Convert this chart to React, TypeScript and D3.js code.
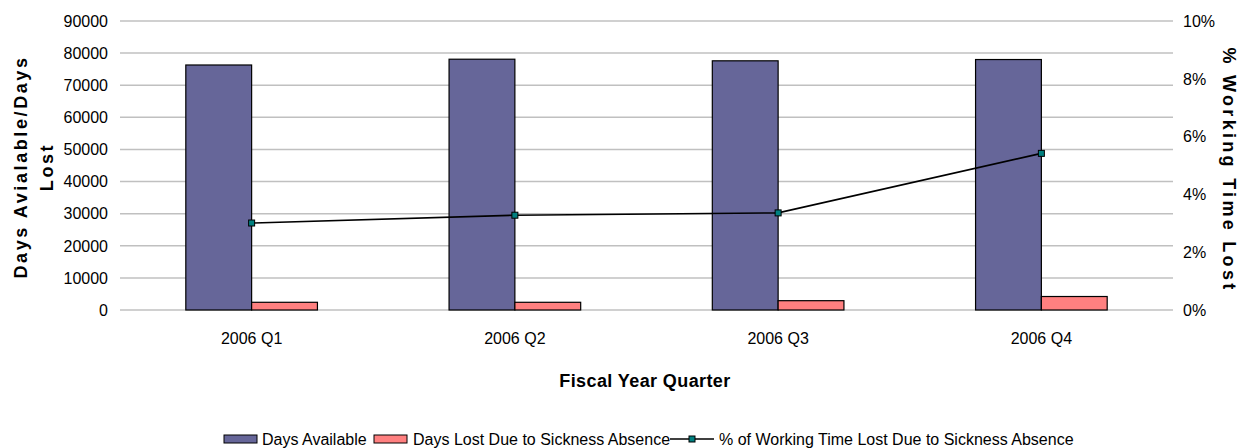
import { useEffect, useRef } from 'react';
import * as d3 from 'd3';

const quarters = ['2006 Q1', '2006 Q2', '2006 Q3', '2006 Q4'];
const daysAvailable = [76300, 78100, 77600, 78000];
const daysLost = [2400, 2400, 2900, 4200];
const pctLost = [0.0301, 0.0328, 0.0336, 0.0542];
const leftTicks = [0, 10000, 20000, 30000, 40000, 50000, 60000, 70000, 80000, 90000];
const rightTicks = [0, 0.02, 0.04, 0.06, 0.08, 0.1];

const colors = {
  available: '#666699',
  lost: '#FF8080',
  line: '#000000',
  marker: '#008080',
  grid: '#C0C0C0',
};

const FONT = '"Liberation Sans", Arial, sans-serif';

const App = () => {
  const ref = useRef<SVGSVGElement | null>(null);

  useEffect(() => {
    if (!ref.current) return;
    const root = d3.select(ref.current);
    root.selectAll('*').remove();

    const m = { left: 120, right: 1173, top: 21, bottom: 310 };

    const x0 = d3.scaleBand<string>().domain(quarters).range([m.left, m.right]).paddingInner(0.5).paddingOuter(0.25);
    const x1 = d3.scaleBand<string>().domain(['a', 'b']).range([0, x0.bandwidth()]);
    const yL = d3.scaleLinear().domain([0, 90000]).range([m.bottom, m.top]);
    const yR = d3.scaleLinear().domain([0, 0.1]).range([m.bottom, m.top]);

    const g = root.append('g').style('font-family', FONT);

    // gridlines
    g.selectAll('line.grid')
      .data(leftTicks)
      .enter()
      .append('line')
      .attr('x1', m.left)
      .attr('x2', m.right)
      .attr('y1', d => yL(d))
      .attr('y2', d => yL(d))
      .attr('stroke', colors.grid)
      .attr('stroke-width', 1.5);

    // left ticks
    g.selectAll('text.lt')
      .data(leftTicks)
      .enter()
      .append('text')
      .attr('x', 108)
      .attr('y', d => yL(d))
      .attr('dy', '0.36em')
      .attr('text-anchor', 'end')
      .style('font-size', '16px')
      .text(d => String(d));

    // right ticks
    g.selectAll('text.rt')
      .data(rightTicks)
      .enter()
      .append('text')
      .attr('x', 1183)
      .attr('y', d => yR(d))
      .attr('dy', '0.36em')
      .style('font-size', '16px')
      .text(d => d3.format('.0%')(d));

    // bars
    quarters.forEach((q, i) => {
      const bx = x0(q)!;
      g.append('rect')
        .attr('x', bx + x1('a')!)
        .attr('y', yL(daysAvailable[i]))
        .attr('width', x1.bandwidth())
        .attr('height', yL(0) - yL(daysAvailable[i]))
        .attr('fill', colors.available)
        .attr('stroke', '#000')
        .attr('stroke-width', 1.2);
      g.append('rect')
        .attr('x', bx + x1('b')!)
        .attr('y', yL(daysLost[i]))
        .attr('width', x1.bandwidth())
        .attr('height', yL(0) - yL(daysLost[i]))
        .attr('fill', colors.lost)
        .attr('stroke', '#000')
        .attr('stroke-width', 1.2);
    });

    // category labels
    g.selectAll('text.cat')
      .data(quarters)
      .enter()
      .append('text')
      .attr('x', d => x0(d)! + x0.bandwidth() / 2)
      .attr('y', 344)
      .attr('text-anchor', 'middle')
      .style('font-size', '16px')
      .text(d => d);

    // line
    const cx = (q: string) => x0(q)! + x0.bandwidth() / 2;
    const line = d3.line<number>()
      .x((_, i) => cx(quarters[i]))
      .y(d => yR(d));
    g.append('path')
      .datum(pctLost)
      .attr('d', line)
      .attr('fill', 'none')
      .attr('stroke', colors.line)
      .attr('stroke-width', 1.6);
    g.selectAll('rect.mk')
      .data(pctLost)
      .enter()
      .append('rect')
      .attr('x', (_, i) => cx(quarters[i]) - 3)
      .attr('y', d => yR(d) - 3)
      .attr('width', 6)
      .attr('height', 6)
      .attr('fill', colors.marker)
      .attr('stroke', '#000')
      .attr('stroke-width', 1);

    // axis titles
    const lt = g.append('text')
      .attr('transform', 'translate(0,167) rotate(-90)')
      .attr('text-anchor', 'middle')
      .style('font-size', '18px')
      .style('font-weight', 'bold')
      .style('letter-spacing', '2.6px');
    lt.append('tspan').attr('x', 0).attr('y', 27).text('Days Avialable/Days');
    lt.append('tspan').attr('x', 0).attr('y', 53).text('Lost');

    g.append('text')
      .attr('transform', 'translate(1223,170) rotate(90)')
      .attr('text-anchor', 'middle')
      .style('font-size', '18px')
      .style('font-weight', 'bold')
      .style('letter-spacing', '3.3px')
      .text('% Working Time Lost');

    g.append('text')
      .attr('x', 645)
      .attr('y', 387)
      .attr('text-anchor', 'middle')
      .style('font-size', '18px')
      .style('font-weight', 'bold')
      .style('letter-spacing', '0.4px')
      .text('Fiscal Year Quarter');

    // legend
    const ly = 439;
    const leg = g.append('g').style('font-size', '16px');
    leg.append('rect').attr('x', 224).attr('y', ly - 4).attr('width', 33).attr('height', 8)
      .attr('fill', colors.available).attr('stroke', '#000').attr('stroke-width', 1);
    leg.append('text').attr('x', 262).attr('y', 445).text('Days Available');
    leg.append('rect').attr('x', 374).attr('y', ly - 4).attr('width', 33).attr('height', 8)
      .attr('fill', colors.lost).attr('stroke', '#000').attr('stroke-width', 1);
    leg.append('text').attr('x', 413).attr('y', 445).text('Days Lost Due to Sickness Absence');
    leg.append('line').attr('x1', 670).attr('x2', 714).attr('y1', ly).attr('y2', ly)
      .attr('stroke', '#000').attr('stroke-width', 1.6);
    leg.append('rect').attr('x', 689).attr('y', ly - 3).attr('width', 6).attr('height', 6)
      .attr('fill', colors.marker).attr('stroke', '#000').attr('stroke-width', 1);
    leg.append('text').attr('x', 719).attr('y', 445).text('% of Working Time Lost Due to Sickness Absence');
  }, []);

  return (
    <svg
      ref={ref}
      width={1243}
      height={448}
      style={{ position: 'absolute', left: 0, top: 0, background: '#fff' }}
    />
  );
};

export default App;
